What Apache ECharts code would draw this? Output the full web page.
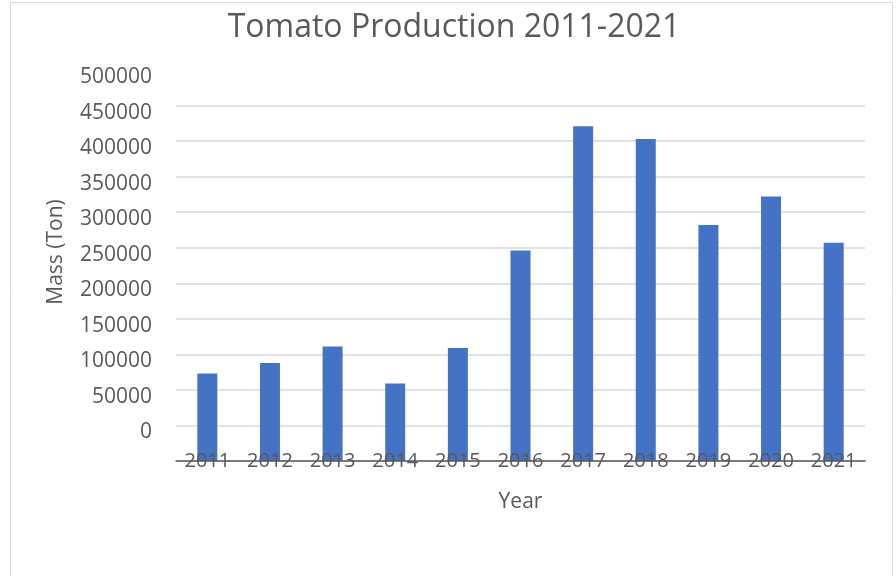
<!DOCTYPE html>
<html>
<head>
<meta charset="utf-8">
<script src="https://cdn.jsdelivr.net/npm/echarts@6/dist/echarts.min.js"></script>
<style>
  html, body { margin: 0; padding: 0; background: #ffffff; }
  #chart { width: 896px; height: 576px; }
</style>
</head>
<body>
<div id="chart"></div>
<script>
const years = ['2011', '2012', '2013', '2014', '2015', '2016', '2017', '2018', '2019', '2020', '2021'];
const production = [73000, 88000, 111000, 59000, 109000, 246000, 421000, 403000, 282000, 322000, 257000];
const yMin = -50000;
const yMax = 500000;
const yStep = 50000;

const chart = echarts.init(document.getElementById('chart'), null, { renderer: 'canvas' });
const font = '"Open Sans", "Noto Sans", sans-serif';
const textColor = '#595959';

chart.setOption({
  animation: false,
  backgroundColor: '#ffffff',
  graphic: [{
    type: 'rect',
    shape: { x: 10.5, y: 2.5, width: 882, height: 600 },
    style: { fill: 'none', stroke: '#d9d9d9', lineWidth: 1 },
    silent: true
  }, {
    type: 'text',
    x: 56,
    y: 252,
    rotation: Math.PI / 2,
    style: {
      text: 'Mass (Ton)',
      fontFamily: font, fontSize: 21, fill: textColor,
      align: 'center', verticalAlign: 'middle'
    },
    silent: true
  }],
  title: {
    text: 'Tomato Production 2011-2021',
    left: 449,
    textAlign: 'center',
    top: 7,
    textStyle: { fontFamily: font, fontSize: 32, fontWeight: 'normal', color: textColor }
  },
  grid: { left: 176, right: 31, top: 70, bottom: 115, containLabel: false },
  xAxis: {
    type: 'category',
    data: years,
    name: 'Year',
    nameLocation: 'middle',
    nameGap: 31,
    z: 5,
    nameTextStyle: { fontFamily: font, fontSize: 21, color: textColor, verticalAlign: 'top' },
    axisLine: { onZero: false, lineStyle: { color: '#595959', width: 1.5 } },
    axisTick: { show: false },
    axisLabel: {
      fontFamily: font, fontSize: 20, color: textColor,
      verticalAlign: 'middle', margin: 0, interval: 0
    },
    splitLine: { show: false }
  },
  yAxis: {
    type: 'value',
    min: yMin,
    max: yMax,
    interval: yStep,
    startValue: yMin,
    axisLine: { show: false },
    axisTick: { show: false },
    axisLabel: {
      fontFamily: font, fontSize: 21, color: textColor, margin: 24,
      verticalAlign: 'top', lineHeight: 14,
      formatter: function (v) { return v < 0 ? '' : String(v); }
    },
    splitLine: { show: true, showMaxLine: false, lineStyle: { color: '#d9d9d9', width: 1.5 } }
  },
  series: [{
    type: 'bar',
    data: production,
    barWidth: 20,
    itemStyle: { color: '#4472C4' }
  }]
});
</script>
</body>
</html>
